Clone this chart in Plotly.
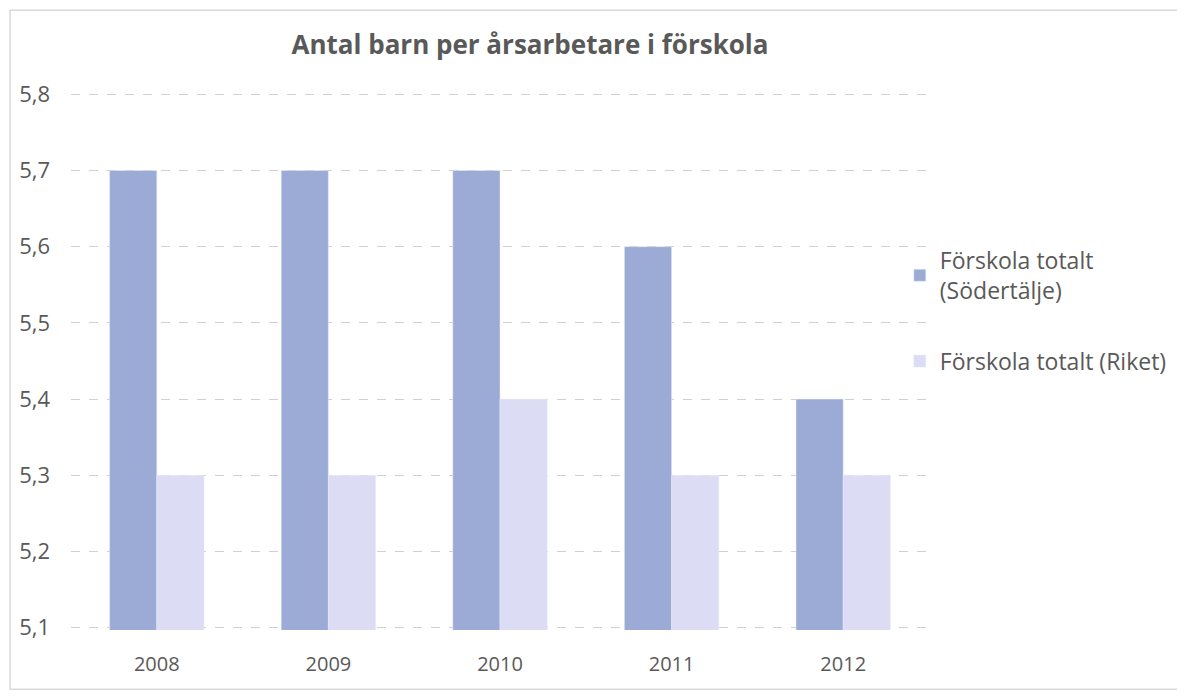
import plotly.graph_objects as go

years = ["2008", "2009", "2010", "2011", "2012"]
sodertalje = [5.7, 5.7, 5.7, 5.6, 5.4]
riket = [5.3, 5.3, 5.4, 5.3, 5.3]
y_ticks = [5.1, 5.2, 5.3, 5.4, 5.5, 5.6, 5.7, 5.8]
y_labels = ["5,1", "5,2", "5,3", "5,4", "5,5", "5,6", "5,7", "5,8"]

FONT = "'Open Sans', 'Noto Sans', sans-serif"
TXT = "#595959"

fig = go.Figure()
fig.add_trace(go.Bar(x=years, y=sodertalje, name="Förskola totalt<br>(Södertälje)",
                     marker_color="#9cabd6", legendgroup="a"))
fig.add_trace(go.Bar(x=years, y=riket, name="Förskola totalt (Riket)",
                     marker_color="#dcdcf4", legendgroup="b"))

fig.update_layout(
    width=1177, height=688,
    margin=dict(l=63, r=256, t=84, b=66, autoexpand=False),
    paper_bgcolor="white", plot_bgcolor="white",
    font=dict(family=FONT, size=20, color=TXT),
    title=dict(text="<b>Antal barn per årsarbetare i förskola</b>",
               x=0.4435, xanchor="center", y=0.946, yanchor="middle",
               font=dict(size=26, color=TXT)),
    barmode="group", bargap=0.45, bargroupgap=0,
    legend=dict(x=0.966, y=0.727, xanchor="left", yanchor="top",
                font=dict(size=23, color=TXT), tracegroupgap=38,
                itemwidth=30, bgcolor="rgba(0,0,0,0)"),
    showlegend=True,
)
fig.update_yaxes(range=[5.097, 5.803], tickvals=y_ticks, ticktext=y_labels,
                 showgrid=True, gridcolor="#d0d0d0", griddash="dash",
                 zeroline=False, ticks="", ticklabelstandoff=20,
                 tickfont=dict(size=22))
fig.update_xaxes(showgrid=False, ticks="", showline=False, ticklabelstandoff=20,
                 tickfont=dict(size=20))

# outer chart frame
fig.add_shape(type="rect", xref="paper", yref="paper",
              x0=-0.071, x1=1.295, y0=-0.11, y1=1.152,
              line=dict(color="#d9d9d9", width=1.5), layer="below")

fig.write_html("out.html")
